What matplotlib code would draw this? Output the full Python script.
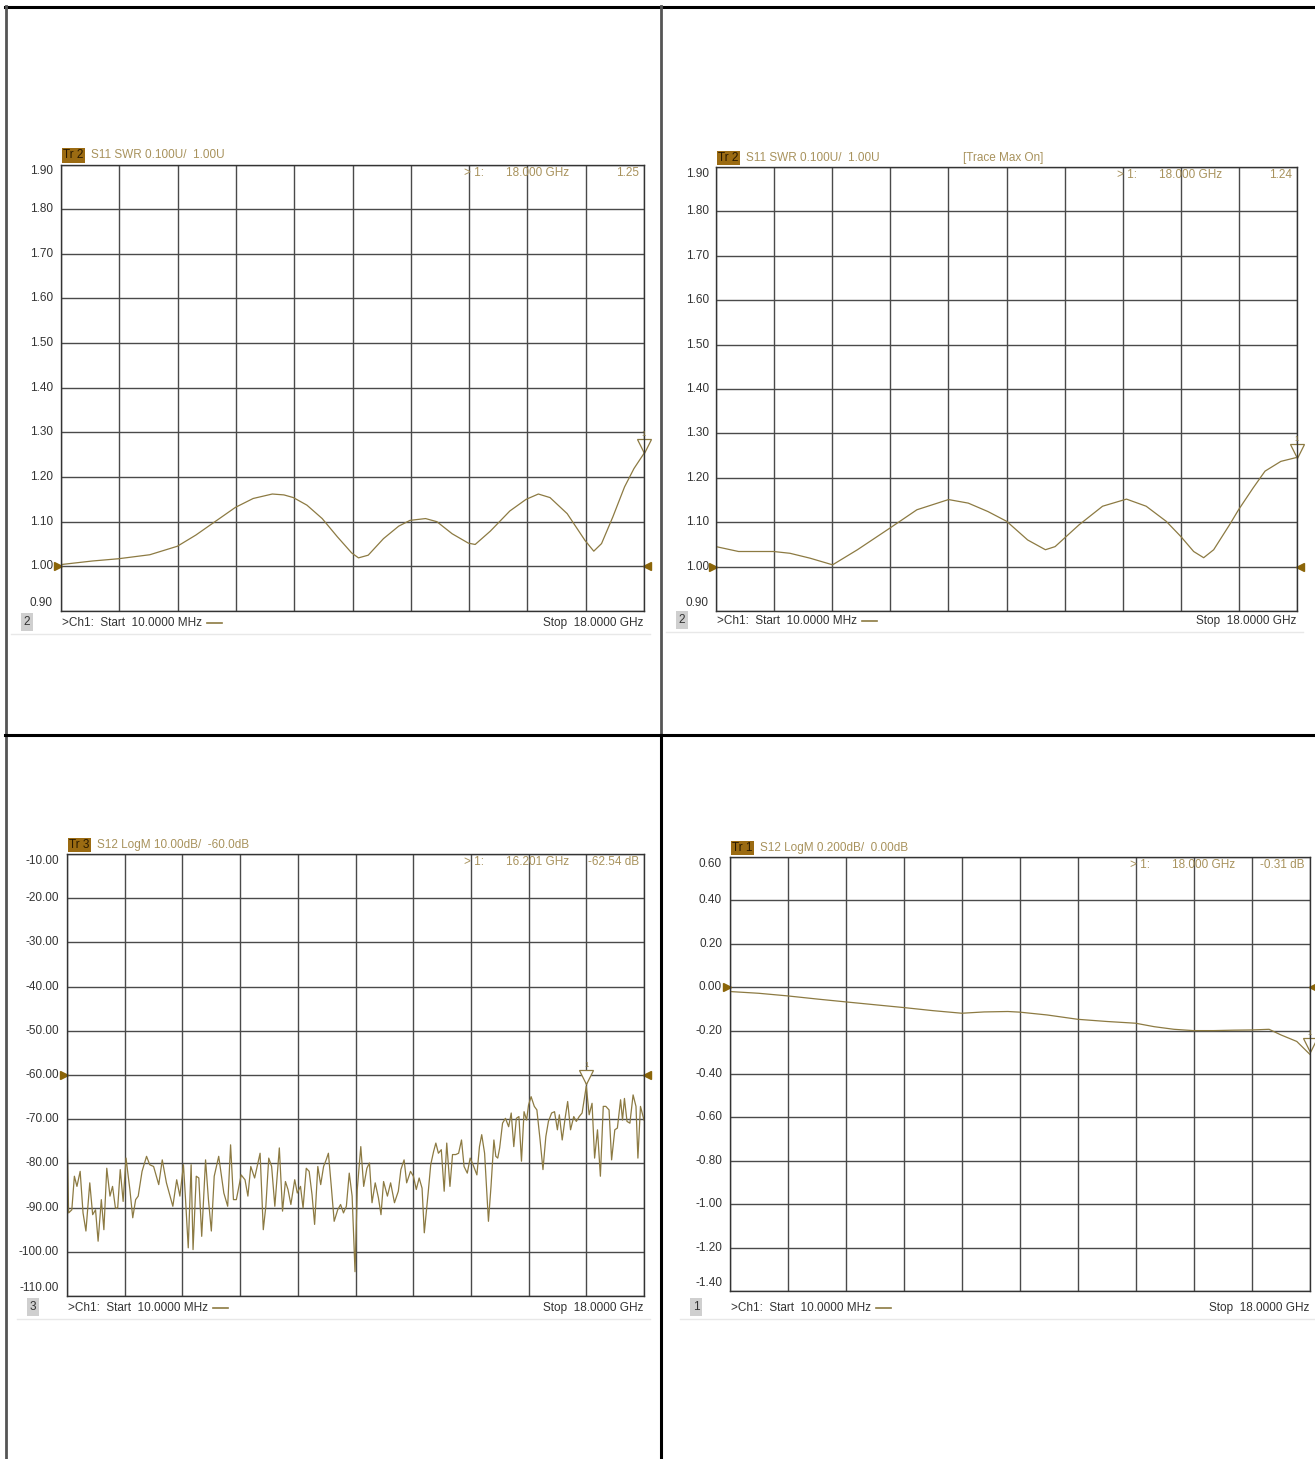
import numpy as np
import matplotlib
matplotlib.use("Agg")
import matplotlib.pyplot as plt
from matplotlib.lines import Line2D
from matplotlib.transforms import offset_copy

plt.rcParams['font.family'] = ['Liberation Sans', 'DejaVu Sans']

W, H = 1315, 1459

# ---- data (frequency in GHz) ----
swr1_f = [0.01, 0.98, 1.78, 2.75, 3.60, 4.17, 4.76, 5.39, 5.94, 6.53, 6.89, 7.18, 7.60,
          8.07, 8.54, 8.98, 9.19, 9.49, 9.96, 10.43, 10.78, 11.26, 11.61, 12.08, 12.58,
          12.79, 13.26, 13.86, 14.36, 14.74, 15.10, 15.63, 16.18, 16.45, 16.69, 17.04,
          17.40, 17.69, 18.00]
swr1_v = [1.004, 1.012, 1.017, 1.026, 1.045, 1.070, 1.100, 1.132, 1.152, 1.162, 1.160,
          1.154, 1.137, 1.107, 1.066, 1.030, 1.019, 1.025, 1.062, 1.090, 1.103, 1.107,
          1.100, 1.073, 1.052, 1.049, 1.079, 1.124, 1.150, 1.162, 1.154, 1.118, 1.058,
          1.034, 1.051, 1.111, 1.178, 1.219, 1.253]

swr2_f = [0.01, 0.71, 1.79, 2.30, 2.92, 3.62, 4.39, 5.40, 6.23, 7.21, 7.82, 8.43, 9.01,
          9.66, 10.21, 10.51, 11.25, 11.98, 12.72, 13.33, 13.95, 14.40, 14.80, 15.11,
          15.42, 15.91, 16.19, 16.64, 17.01, 17.50, 18.00]
swr2_v = [1.045, 1.034, 1.034, 1.030, 1.019, 1.004, 1.038, 1.087, 1.128, 1.151, 1.143,
          1.124, 1.102, 1.060, 1.038, 1.045, 1.094, 1.136, 1.152, 1.136, 1.102, 1.068,
          1.034, 1.020, 1.038, 1.094, 1.128, 1.177, 1.215, 1.237, 1.246]

iso_f = [0.01, 0.06, 0.16, 0.24, 0.32, 0.42, 0.51, 0.60, 0.72, 0.81, 0.90, 0.98, 1.08,
         1.16, 1.25, 1.35, 1.43, 1.52, 1.59, 1.67, 1.76, 1.85, 1.97, 2.06, 2.15, 2.23,
         2.35, 2.49, 2.59, 2.71, 2.87, 2.98, 3.11, 3.31, 3.43, 3.53, 3.64, 3.70, 3.79,
         3.88, 3.94, 4.04, 4.12, 4.21, 4.33, 4.42, 4.51, 4.60, 4.74, 4.90, 5.02, 5.11,
         5.20, 5.29, 5.44, 5.56, 5.65, 5.74, 5.86, 6.03, 6.13, 6.21, 6.30, 6.39, 6.49,
         6.63, 6.73, 6.82, 6.90, 6.99, 7.11, 7.19, 7.29, 7.37, 7.47, 7.56, 7.65, 7.73,
         7.83, 7.92, 8.01, 8.09, 8.16, 8.25, 8.34, 8.45, 8.54, 8.63, 8.72, 8.81, 8.90,
         8.99, 9.06, 9.17, 9.26, 9.36, 9.44, 9.52, 9.62, 9.72, 9.80, 9.88, 10.00, 10.10,
         10.22, 10.34, 10.42, 10.52, 10.60, 10.72, 10.81, 10.90, 10.99, 11.08, 11.15,
         11.27, 11.35, 11.44, 11.51, 11.59, 11.68, 11.77, 11.85, 11.95, 12.03, 12.13,
         12.22, 12.31, 12.39, 12.49, 12.58, 12.67, 12.79, 12.87, 12.94, 13.03, 13.15,
         13.23, 13.32, 13.38, 13.44, 13.50, 13.59, 13.68, 13.78, 13.86, 13.94, 14.02,
         14.10, 14.18, 14.26, 14.34, 14.40, 14.48, 14.58, 14.66, 14.76, 14.85, 14.94,
         15.02, 15.12, 15.21, 15.30, 15.36, 15.45, 15.54, 15.62, 15.71, 15.81, 15.89,
         15.98, 16.07, 16.20, 16.29, 16.38, 16.46, 16.55, 16.64, 16.73, 16.81, 16.91,
         16.99, 17.09, 17.17, 17.27, 17.33, 17.39, 17.47, 17.56, 17.66, 17.75, 17.81,
         17.89, 18.00]
iso_v = [-71.7, -91.2, -90.5, -82.9, -85.2, -81.8, -91.2, -95.3, -84.4, -91.6, -90.5,
         -97.6, -88.2, -95.0, -81.1, -87.4, -85.2, -90.1, -90.1, -81.4, -88.6, -78.8,
         -85.9, -92.3, -88.2, -87.4, -81.8, -78.4, -80.3, -80.7, -84.8, -79.2, -84.4,
         -89.7, -83.7, -87.4, -80.3, -87.4, -99.1, -80.3, -99.5, -82.9, -83.3, -96.5,
         -79.2, -88.2, -95.3, -82.9, -78.4, -86.7, -89.7, -75.8, -88.2, -88.2, -82.6,
         -83.7, -87.4, -80.7, -83.3, -77.7, -95.0, -89.7, -78.8, -80.7, -89.7, -76.5,
         -90.8, -84.1, -85.9, -89.3, -83.7, -86.7, -85.2, -90.1, -81.1, -81.8, -87.1,
         -93.8, -80.7, -84.8, -80.7, -79.2, -77.7, -85.2, -93.1, -90.5, -89.3, -91.2,
         -89.7, -82.2, -87.4, -104.5, -85.9, -76.2, -85.2, -81.1, -79.9, -88.9, -84.4,
         -87.8, -91.6, -84.1, -87.4, -84.4, -88.9, -86.3, -81.4, -79.2, -84.4, -81.8,
         -82.9, -85.9, -83.3, -85.6, -95.7, -86.7, -80.3, -77.3, -75.4, -77.7, -76.9,
         -86.3, -75.4, -85.2, -78.0, -78.0, -77.7, -74.7, -80.7, -82.2, -78.8, -80.3,
         -82.6, -76.2, -73.5, -77.7, -93.1, -85.2, -74.7, -78.4, -78.8, -76.5, -70.9,
         -69.8, -71.7, -68.6, -76.2, -69.8, -69.4, -79.5, -68.3, -70.2, -66.8, -64.9,
         -67.1, -67.9, -74.7, -81.4, -73.9, -70.5, -68.6, -68.3, -72.4, -69.0, -74.7,
         -69.8, -66.0, -72.4, -69.4, -70.5, -69.4, -68.6, -62.54, -69.0, -66.4, -78.8,
         -72.4, -82.9, -67.1, -67.1, -67.9, -79.2, -72.4, -72.0, -65.6, -70.2, -65.3,
         -70.5, -70.9, -64.5, -67.1, -78.8, -67.1, -70.2]

loss_f = [0.01, 0.90, 1.79, 2.74, 3.62, 4.58, 5.41, 6.30, 7.20, 7.89, 8.63, 9.00, 9.85,
          10.80, 11.70, 12.59, 13.17, 13.78, 14.38, 15.01, 15.62, 16.20, 16.73, 17.10,
          17.59, 18.00]
loss_v = [-0.020, -0.028, -0.040, -0.055, -0.068, -0.082, -0.094, -0.108, -0.120, -0.114,
          -0.112, -0.115, -0.128, -0.148, -0.158, -0.166, -0.182, -0.194, -0.200, -0.200,
          -0.198, -0.197, -0.194, -0.220, -0.250, -0.310]

swr_ticks = [1.90, 1.80, 1.70, 1.60, 1.50, 1.40, 1.30, 1.20, 1.10, 1.00, 0.90]
iso_ticks = [-10, -20, -30, -40, -50, -60, -70, -80, -90, -100, -110]
loss_ticks = [0.60, 0.40, 0.20, 0.00, -0.20, -0.40, -0.60, -0.80, -1.00, -1.20, -1.40]

TRACE = '#8C7A42'
TAN = '#A8925C'
BROWN = '#8B6508'
GRIDC = '#4a4a4a'

fig = plt.figure(figsize=(W / 100, H / 100), dpi=100)
fig.patch.set_facecolor('white')


def fx(x):
    return x / W


def fy(y):
    return 1 - y / H


def panel(box, f, v, ticks, fmt, ref, hdr, tr, mk_freq, mk_val, lab_right,
          footer_y, chan, extra=None):
    x0, y0, x1, y1 = box
    ax = fig.add_axes([fx(x0), fy(y1), (x1 - x0) / W, (y1 - y0) / H])
    ax.set_xlim(0.01, 18.0)
    ax.set_ylim(ticks[-1], ticks[0])
    ax.set_xticks(np.linspace(0.01, 18.0, 11))
    ax.set_yticks(ticks)
    ax.grid(True, color=GRIDC, lw=1.0)
    ax.tick_params(length=0, labelleft=False, labelbottom=False)
    for s in ax.spines.values():
        s.set_color('#333333')
        s.set_linewidth(1.0)
    ax.plot(f, v, color=TRACE, lw=0.9)

    # reference level triangles
    ax.plot([0], [ref], marker='>', color=BROWN, ms=6, clip_on=False,
            transform=offset_copy(ax.get_yaxis_transform(), fig, x=-3, units='dots'))
    ax.plot([1], [ref], marker='<', color=BROWN, ms=6, clip_on=False,
            transform=offset_copy(ax.get_yaxis_transform(), fig, x=3, units='dots'))

    # marker 1 at the active point
    tr_off = offset_copy(ax.transData, fig, y=9, units='dots')
    ax.plot([mk_freq], [mk_val], marker='v', ms=10, mfc='white', mec=TRACE, mew=0.9,
            clip_on=False, transform=tr_off)
    ax.text(mk_freq, mk_val, '1', fontsize=5.5, color=TRACE, ha='center', va='bottom',
            transform=offset_copy(ax.transData, fig, y=17, units='dots'), clip_on=False)

    # y labels
    n = len(ticks)
    for i, t in enumerate(ticks):
        yy = y0 + (y1 - y0) * i / (n - 1)
        if i == 0:
            yy += 7
        elif i == n - 1:
            yy -= 8
        fig.text(fx(lab_right), fy(yy), fmt.format(t), fontsize=8.5, color='#333333',
                 ha='right', va='center')

    # header
    fig.text(fx(x0 + 2), fy(y0 - 9), tr, fontsize=8.5, color='#2a1a00', ha='left',
             va='center', bbox=dict(boxstyle='square,pad=0.12', fc='#9B6B12', ec='none'))
    fig.text(fx(x0 + 30), fy(y0 - 9), hdr, fontsize=8.5, color=TAN, ha='left', va='center')
    if extra:
        fig.text(fx(extra[0]), fy(y0 - 9), extra[1], fontsize=8.5, color=TAN,
                 ha='left', va='center')

    # marker readout
    ry = y0 + 8
    fig.text(fx(x1 - 180), fy(ry), '> 1:', fontsize=8.5, color=TAN, ha='left', va='center')
    fig.text(fx(x1 - 106), fy(ry), '{:.3f} GHz'.format(mk_freq), fontsize=8.5, color=TAN,
             ha='center', va='center')
    unit = '' if fmt == '{:.2f}' and ticks[0] > 1 else ' dB'
    fig.text(fx(x1 - 5), fy(ry), '{:.2f}{}'.format(mk_val, unit), fontsize=8.5, color=TAN,
             ha='right', va='center')

    # footer
    fig.text(fx(x0 - 34), fy(footer_y), chan, fontsize=8.5, color='#333333', ha='center',
             va='center', bbox=dict(boxstyle='square,pad=0.25', fc='#CFCFCF', ec='none'))
    fig.text(fx(x0 + 1), fy(footer_y + 1), '>Ch1:  Start  10.0000 MHz', fontsize=8.5,
             color='#333333', ha='left', va='center')
    fig.add_artist(Line2D([fx(x0 + 146), fx(x0 + 161)], [fy(footer_y + 1)] * 2,
                          color=TRACE, lw=1.2))
    fig.text(fx(x1 - 1), fy(footer_y + 1), 'Stop  18.0000 GHz', fontsize=8.5,
             color='#333333', ha='right', va='center')
    fig.add_artist(Line2D([fx(x0 - 50), fx(x1 + 6)], [fy(footer_y + 12)] * 2,
                          color='#E8E8E8', lw=1.0))
    return ax


panel((61, 164.5, 644, 611), swr1_f, swr1_v, swr_ticks, '{:.2f}', 1.00,
      'S11 SWR 0.100U/  1.00U', 'Tr 2', 18.0, 1.25, 53, 622, '2')
panel((716, 167, 1297, 611), swr2_f, swr2_v, swr_ticks, '{:.2f}', 1.00,
      'S11 SWR 0.100U/  1.00U', 'Tr 2', 18.0, 1.24, 709, 620, '2',
      extra=(963, '[Trace Max On]'))
panel((67, 854, 644, 1296), iso_f, iso_v, iso_ticks, '{:.2f}', -60,
      'S12 LogM 10.00dB/  -60.0dB', 'Tr 3', 16.201, -62.54, 59, 1307, '3')
panel((730, 857, 1310, 1291), loss_f, loss_v, loss_ticks, '{:.2f}', 0.0,
      'S12 LogM 0.200dB/  0.00dB', 'Tr 1', 18.0, -0.31, 722, 1307, '1')

# frame lines of the 2x2 layout
fig.add_artist(Line2D([fx(5), fx(W)], [fy(7), fy(7)], color='black', lw=2.2))
fig.add_artist(Line2D([fx(6), fx(6)], [fy(6), fy(H)], color='#555555', lw=2.0))
fig.add_artist(Line2D([fx(661), fx(661)], [fy(6), fy(735)], color='#555555', lw=2.0))
fig.add_artist(Line2D([fx(661), fx(661)], [fy(735), fy(H)], color='black', lw=2.2))
fig.add_artist(Line2D([fx(5), fx(W)], [fy(735), fy(735)], color='black', lw=2.2))

fig.savefig('out.png', dpi=100, facecolor='white')
